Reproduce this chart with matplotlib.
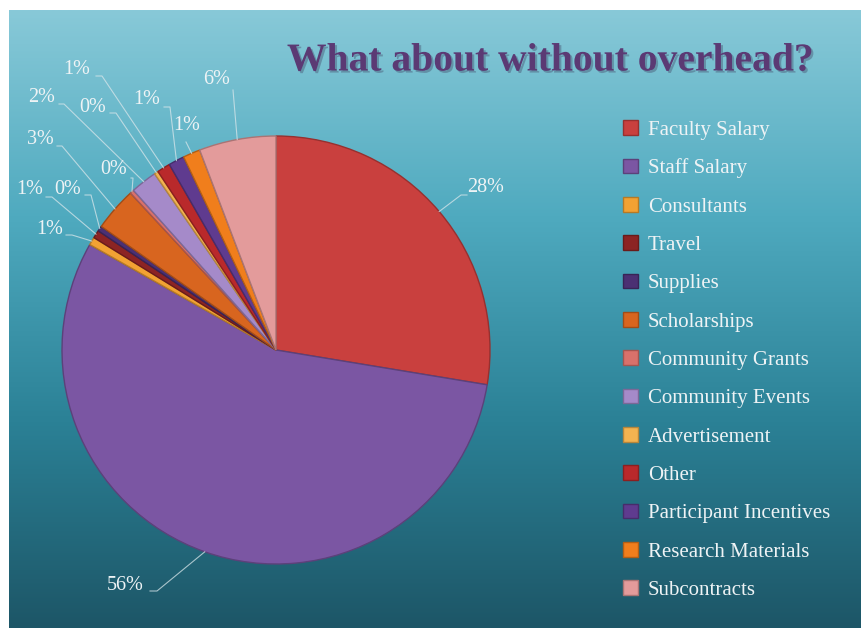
import numpy as np
import matplotlib
matplotlib.use("Agg")
import matplotlib.pyplot as plt
from matplotlib.colors import LinearSegmentedColormap, to_rgb
import matplotlib.patheffects as pe

# Datos del grafico (porcentajes)
categorias = ["Faculty Salary", "Staff Salary", "Consultants", "Travel", "Supplies",
              "Scholarships", "Community Grants", "Community Events", "Advertisement",
              "Other", "Participant Incentives", "Research Materials", "Subcontracts"]
valores = [27.6, 55.6, 0.6, 0.6, 0.4, 3.3, 0.3, 2.0, 0.3, 1.0, 1.2, 1.3, 5.8]
colores = ["#c9403e", "#7b56a3", "#f2a233", "#8c2424", "#4b3073", "#d8651f",
           "#d9716b", "#a58ac9", "#f3b350", "#b9292b", "#5f3b8f", "#f07e1c", "#e39b9b"]
titulo = "What about without overhead?"

W, H = 861, 628

# posiciones de las etiquetas (pixeles, y desde arriba): texto, codo de la linea, inicio horizontal
etiquetas_pos = [
    (486, 187, 461, 195, 467),
    (125, 585, 157, 591, 150),
    (50, 230, 72, 235, 66),
    (30, 190, 52, 197, 46),
    (68, 190, 91, 195, 85),
    (40, 140, 62, 146, 57),
    (114, 170, 133, 178, 131),
    (42, 98, 64, 104, 59),
    (93, 108, 116, 113, 110),
    (77, 70, 102, 76, 96),
    (147, 100, 170, 107, 164),
    (187, 125, 186, 142, 186),
    (217, 80, 233, 90, 233),
]

def yy(y):
    return H - y

def oscuro(c, f=0.75):
    r, g, b = to_rgb(c)
    return (r * f, g * f, b * f)

plt.rcParams['font.family'] = ['Liberation Serif', 'DejaVu Serif']

fig = plt.figure(figsize=(W / 100, H / 100), dpi=100)
fig.patch.set_facecolor("white")
ax = fig.add_axes([0, 0, 1, 1])

# fondo degradado
cmap = LinearSegmentedColormap.from_list("fondo", ["#88c9d8", "#4faabf", "#2b8196", "#1d5667"])
grad = np.linspace(0, 1, 256).reshape(-1, 1)
ax.imshow(grad, cmap=cmap, extent=(9, W, 0, H - 10), aspect="auto", zorder=0)

cx, cy, R = 276, yy(350), 214
wedges, _ = ax.pie(valores, colors=colores, startangle=90, counterclock=False,
                   center=(cx, cy), radius=R,
                   wedgeprops=dict(linewidth=1.0))
for w, c in zip(wedges, colores):
    w.set_edgecolor(oscuro(c))
    w.set_zorder(2)

# etiquetas con lineas guia
for w, v, (tx, ty, ex, ey, hx) in zip(wedges, valores, etiquetas_pos):
    ang = np.deg2rad((w.theta1 + w.theta2) / 2)
    px, py = cx + R * np.cos(ang), cy + R * np.sin(ang)
    ax.plot([hx, ex, px], [yy(ey), yy(ey), py], color="#d8e6ea", lw=0.8, alpha=0.75, zorder=3)
    ax.text(tx, yy(ty), "{}%".format(int(round(v))), color="#eef3f5", fontsize=14.5,
            ha="center", va="center", zorder=4)

ax.text(550, yy(61), titulo, color="#5b3a74", fontsize=28.5, fontweight="bold",
        ha="center", va="center", zorder=4,
        path_effects=[pe.withSimplePatchShadow(offset=(1.5, -1.5), shadow_rgbFace="#3a3a5a", alpha=0.35)])

leg = ax.legend(wedges, categorias, loc="upper left", bbox_to_anchor=(623 / W, 1 - 120 / H),
                bbox_transform=fig.transFigure, frameon=False, fontsize=15,
                handlelength=0.7, handleheight=0.7, handletextpad=0.5,
                labelspacing=0.9, borderpad=0, borderaxespad=0)
for t in leg.get_texts():
    t.set_color("#eef3f5")

ax.set_xlim(0, W)
ax.set_ylim(0, H)
ax.axis("off")

plt.savefig("out.png", dpi=100)
plt.close()
